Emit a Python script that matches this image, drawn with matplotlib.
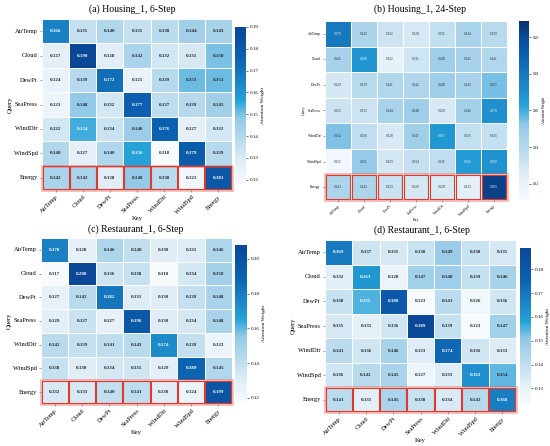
import numpy as np
import matplotlib
matplotlib.use("Agg")
import matplotlib.pyplot as plt
import seaborn as sns
from matplotlib.colors import LinearSegmentedColormap
from matplotlib.patches import Rectangle

plt.rcParams['font.family'] = ['Liberation Serif', 'DejaVu Serif']

labels = ["AirTemp", "Cloud", "DewPt", "SeaPress", "WindDir", "WindSpd", "Energy"]

# (a) Housing_1, 6-Step
housing_6 = [
    [0.166, 0.135, 0.140, 0.135, 0.138, 0.144, 0.143],
    [0.127, 0.190, 0.128, 0.142, 0.132, 0.131, 0.150],
    [0.124, 0.139, 0.172, 0.125, 0.139, 0.151, 0.151],
    [0.123, 0.148, 0.132, 0.177, 0.137, 0.139, 0.145],
    [0.132, 0.154, 0.134, 0.146, 0.176, 0.127, 0.132],
    [0.140, 0.127, 0.140, 0.156, 0.118, 0.179, 0.139],
    [0.142, 0.142, 0.128, 0.148, 0.138, 0.121, 0.181],
]
# (b) Housing_1, 24-Step
housing_24 = [
    [0.179, 0.143, 0.132, 0.128, 0.135, 0.144, 0.139],
    [0.145, 0.168, 0.122, 0.131, 0.148, 0.145, 0.141],
    [0.129, 0.139, 0.141, 0.142, 0.148, 0.145, 0.155],
    [0.132, 0.132, 0.144, 0.148, 0.128, 0.146, 0.170],
    [0.154, 0.136, 0.128, 0.147, 0.167, 0.135, 0.135],
    [0.115, 0.151, 0.129, 0.134, 0.136, 0.166, 0.169],
    [0.143, 0.143, 0.133, 0.129, 0.128, 0.123, 0.203],
]
# (c) Restaurant_1, 6-Step
restaurant_c = [
    [0.178, 0.128, 0.146, 0.140, 0.130, 0.131, 0.146],
    [0.117, 0.208, 0.136, 0.138, 0.118, 0.134, 0.150],
    [0.127, 0.142, 0.182, 0.131, 0.130, 0.139, 0.148],
    [0.129, 0.137, 0.127, 0.196, 0.130, 0.134, 0.148],
    [0.142, 0.139, 0.141, 0.143, 0.174, 0.139, 0.123],
    [0.138, 0.130, 0.134, 0.135, 0.129, 0.189, 0.145],
    [0.132, 0.133, 0.140, 0.141, 0.130, 0.124, 0.199],
]
# (d) Restaurant_1, 6-Step
restaurant_d = [
    [0.169, 0.137, 0.135, 0.138, 0.149, 0.138, 0.135],
    [0.132, 0.161, 0.128, 0.147, 0.148, 0.139, 0.146],
    [0.138, 0.155, 0.180, 0.123, 0.141, 0.126, 0.136],
    [0.135, 0.131, 0.136, 0.189, 0.139, 0.123, 0.147],
    [0.141, 0.136, 0.146, 0.133, 0.174, 0.136, 0.133],
    [0.136, 0.142, 0.145, 0.127, 0.133, 0.163, 0.154],
    [0.141, 0.131, 0.145, 0.138, 0.134, 0.142, 0.168],
]

titles = ["(a) Housing_1, 6-Step", "(b) Housing_1, 24-Step",
          "(c) Restaurant_1, 6-Step", "(d) Restaurant_1, 6-Step"]

stops = [(0.0, "#f7fbff"), (0.13, "#e3eff8"), (0.3, "#b3d8ec"), (0.42, "#92c9e7"),
         (0.53, "#25a2d9"), (0.67, "#1a80c3"), (0.8, "#0b62b0"), (1.0, "#0a4797")]
cmap = LinearSegmentedColormap.from_list("attn", stops)
# 24-step panel runs into a darker navy at the top
cmap_b = LinearSegmentedColormap.from_list(
    "attn_b", stops[:-1] + [(0.9, "#0a4e9c"), (1.0, "#08306b")])

W, H = 550, 446
fig = plt.figure(figsize=(W / 100, H / 100), dpi=100)


def box(l, t, r, b):
    return [l / W, 1 - b / H, (r - l) / W, (b - t) / H]


# pixel boxes: heatmap, colorbar, title (x, y), label sizes
panels = [
    dict(data=housing_6, hm=(42, 19, 232, 190), cb=(235, 27, 246, 184), tt=(132, 9),
         fs_tick=4.6, fs_ann=3.6, fs_cb=3.6, fs_lab=4.8, bold=True, vlim=(None, None), cmap=cmap),
    dict(data=housing_24, hm=(325, 21, 507, 200), cb=(519, 21, 529, 200), tt=(420, 9),
         fs_tick=2.6, fs_ann=2.4, fs_cb=2.6, fs_lab=2.8, bold=False, vlim=(0.111, 0.209), cmap=cmap_b),
    dict(data=restaurant_c, hm=(41, 238, 232, 404), cb=(235, 245, 247, 403), tt=(136, 229),
         fs_tick=4.6, fs_ann=3.6, fs_cb=3.6, fs_lab=4.8, bold=True, vlim=(None, None), cmap=cmap),
    dict(data=restaurant_d, hm=(325, 240, 516, 412), cb=(520, 248, 531, 405), tt=(422, 230),
         fs_tick=4.6, fs_ann=3.6, fs_cb=3.6, fs_lab=4.8, bold=True, vlim=(None, None), cmap=cmap),
]

for p, title in zip(panels, titles):
    ax = fig.add_axes(box(*p["hm"]))
    cax = fig.add_axes(box(*p["cb"]))
    vals = np.array(p["data"])
    sns.heatmap(vals, ax=ax, cbar_ax=cax, cmap=p["cmap"], annot=True, fmt=".3f",
                vmin=p["vlim"][0], vmax=p["vlim"][1],
                linewidths=0.6, linecolor="white",
                xticklabels=labels, yticklabels=labels,
                annot_kws={"fontsize": p["fs_ann"],
                           "fontweight": "bold" if p["bold"] else "normal"})
    ax.set_xticklabels(labels, rotation=45, ha="right", rotation_mode="anchor",
                       fontsize=p["fs_tick"])
    ax.set_yticklabels(labels, rotation=0, fontsize=p["fs_tick"])
    ax.tick_params(length=1.5, width=0.4, pad=1.5, color="#555555")
    ax.set_xlabel("Key", fontsize=p["fs_lab"], labelpad=1)
    ax.set_ylabel("Query", fontsize=p["fs_lab"], labelpad=1)
    cax.tick_params(labelsize=p["fs_cb"], length=1.5, width=0.4, pad=1)
    cax.set_ylabel("Attention Weight", fontsize=p["fs_cb"] + 0.3, labelpad=2)
    for s in cax.spines.values():
        s.set_visible(False)

    # highlight Energy row
    n = len(labels)
    ax.add_patch(Rectangle((0, n - 1), n, 1, fill=False, edgecolor="#e8564a",
                           lw=2.0, alpha=0.4, clip_on=False))
    for j in range(n):
        ax.add_patch(Rectangle((j + 0.02, n - 1 + 0.03), 0.96, 0.94, fill=False,
                               edgecolor="#e0392b", lw=0.8, clip_on=False))

    fig.text(p["tt"][0] / W, 1 - p["tt"][1] / H, title, ha="center", va="center",
             fontsize=7)

fig.savefig("out.png", dpi=100)
